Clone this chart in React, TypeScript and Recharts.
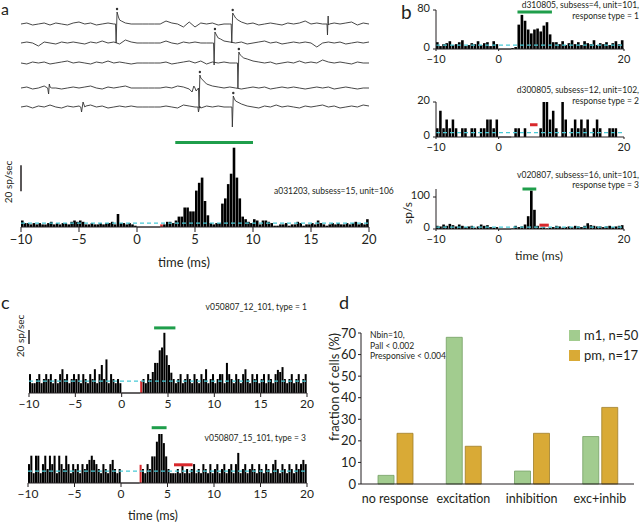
import React from 'react';
import { BarChart, Bar, XAxis, YAxis, ReferenceLine, ReferenceDot, LineChart, Line } from 'recharts';

const FONT = 'Lato, "Open Sans", sans-serif';
const INK = '#231f20';
const CYAN = '#48c9d6';
const GREEN = '#1f9e4b';
const RED = '#d8282c';
const M1_COLOR = '#a2cc8f';
const PM_COLOR = '#d9aa36';

// ---------- panel a: raw traces (0.5 ms grid, -10..20 ms) ----------
const TRACE1 = [
  0, 1, -1, 0, 1, -1, 1, 0, -1, 1,
  2, 0, 1, -1, 0, 1, 0, 4, 1, 0,
  0, 0, 0, 0, 0, 3, 1, 0, -3, 2,
  -3, 1, 0, 1, -1, 0, 0, 6, 2, 0,
  1, -1, 0, 1, 0, -1, 1, 0, 1, 3,
  0, 1, 0, -1, 1, 0, 1, 2, -1, 1,
  0,
];
const SPIKES1 = [[-1.85, 0], [-1.8, -19], [-1.72, 12], [-1.6, 7], [-1.35, 3], [8.12, 0], [8.17, -19], [8.25, 11], [8.4, 8], [8.7, 4], [16.38, 0], [16.42, -11], [16.48, 8], [16.58, 0]];
const MARKS1 = [[-1.72, 15], [8.25, 14]];

const TRACE2 = [
  0, 1, 0, -3, 1, 0, -1, 1, 0, 1,
  0, -1, 1, 0, 2, 0, 1, -1, 3, 1,
  0, 0, 0, 0, 0, 2, 0, -1, 1, 0,
  1, 0, 0, 0, 5, 2, 1, 0, 1, -1,
  0, 1, 2, 0, 1, -1, 0, 1, 0, 1,
  0, -4, 0, 1, 0, 1, -1, 0, 1, 0,
  1,
];
const SPIKES2 = [[6.6, 0], [6.65, -22], [6.72, 11], [6.85, 8], [7.2, 4]];
const MARKS2 = [[6.72, 14]];

const TRACE3 = [
  0, -1, 1, 0, 1, -1, 0, 1, 2, 0,
  1, 0, -1, 1, 0, 2, 0, 1, 0, -1,
  0, 0, 0, 0, 0, 1, -1, 0, 1, 2,
  0, 2, -1, 1, 0, 1, 0, 0, 7, 4,
  2, 1, 0, 1, -1, 0, 1, 0, 2, 0,
  1, 0, 3, 1, 0, 1, 0, -1, 1, 0,
  0,
];
const SPIKES3 = [[8.66, 0], [8.7, -25], [8.78, 11], [8.9, 8], [9.2, 5]];
const MARKS3 = [[8.78, 14]];

const TRACE4 = [
  0, 1, -1, 0, 2, 1, 0, -1, 0, 1,
  0, 1, 2, 0, -1, 1, 0, 1, 2, 0,
  0, 0, 0, 0, 0, 1, 0, 2, 1, -1,
  0, 10, 4, 2, 1, 0, 1, 0, -1, 0,
  1, 0, 1, -1, 0, 1, 0, 1, 0, -1,
  0, 1, 0, 1, -1, 0, 1, 0, -1, 0,
  0,
];
const SPIKES4 = [[-7.7, 0], [-7.62, -6], [-7.56, 4], [-7.35, 0], [4.75, -4], [4.9, 2], [5.1, -3], [5.3, 0], [5.35, -20], [5.42, 13]];
const MARKS4 = [[5.42, 16]];

const TRACE5 = [
  0, 1, -1, 1, 0, 2, 0, -1, 1, 0,
  1, 0, 2, 0, 1, -1, 0, 1, 0, 1,
  0, 0, 0, 0, 0, 1, 0, -1, 2, 1,
  0, -1, 1, 0, 1, 0, 0, 6, 3, 1,
  0, -1, 1, 0, 2, 0, 1, 0, -1, 1,
  0, 1, 2, 0, 1, -1, 0, 1, 0, 2,
  1,
];
const SPIKES5 = [[-4.85, 0], [-4.78, -5], [-4.65, 5], [-4.4, 1], [5.25, 0], [5.3, -5], [5.4, 1], [8.18, 0], [8.22, -20], [8.3, 11], [8.4, 8]];
const MARKS5 = [[8.3, 14]];

// ---------- histograms (sp/s) ----------
// panel a, 0.25 ms bins from -10
const A_HIST = [
  5, 3, 3, 2, 3, 2, 3, 2, 2, 3, 4, 2, 3, 2, 3, 3, 2, 4, 5, 4,
  5, 4, 2, 2, 3, 2, 2, 3, 2, 3, 3, 4, 2, 10, 3, 3, 2, 3, 2, 1,
  0, 0, 0, 0, 0, 0, 0, 0,
  2, 2, 4, 4, 3,
  5, 8, 8, 15, 15, 12, 12, 28, 34, 38, 20, 9, 3, 2, 3, 3, 18, 22, 33, 41, 61, 38, 22, 8, 6, 4, 3,
  6, 5, 2, 5, 5, 4, 3, 1, 1, 2, 2, 3, 1, 2, 2, 4, 3, 1, 2, 2,
  3, 2, 5, 3, 2, 1, 2, 3, 2, 3, 2, 2, 3, 2, 3, 4, 2, 3, 2, 6,
];
// panel b, 0.5 ms bins from -10
const B1_HIST = [
  14, 6, 10, 12, 16, 8, 10, 14, 18, 6,
  8, 12, 10, 16, 8, 12, 14, 6, 16, 10,
  0, 0, 0, 0,
  2, 4, 50, 70, 58, 40, 32, 40, 42, 36, 48, 55, 30, 14,
  14, 10, 16, 8, 12, 18, 10, 14, 8, 16, 12, 10, 18, 8, 12, 10, 14, 8, 12, 16, 10, 18,
];
const B2_HIST = [
  5, 15, 5, 10, 5, 10, 5, 0, 5, 5,
  0, 5, 5, 0, 5, 5, 10, 10, 5, 10,
  0, 0, 0, 0,
  0, 5, 5, 0, 5, 0, 0, 0, 0, 5, 20, 20, 10, 15,
  5, 0, 20, 10, 0, 5, 10, 5, 10, 5, 10, 0, 5, 10, 5, 0, 0, 5, 5, 5, 0, 0,
];
const B3_HIST = [
  10, 8, 14, 10, 16, 12, 8, 14, 10, 6,
  8, 10, 4, 8, 14, 10, 12, 6, 4, 6,
  0, 0, 0, 0,
  2, 10, 6, 8, 14, 40, 120, 60, 10, 4, 6, 2, 4, 6,
  10, 8, 4, 6, 8, 6, 10, 8, 6, 10, 18, 12, 10, 8, 8, 6, 8, 10, 6, 8, 10, 12,
];
// panel c, 0.25 ms bins from -10
const C1_HIST = [
  27, 14, 14, 20, 27, 14, 20, 27, 20, 27, 14, 20, 14, 27, 34, 20, 27, 14, 20, 27,
  20, 27, 14, 27, 20, 14, 27, 20, 34, 14, 27, 40, 20, 48, 14, 27, 20, 14, 20, 14,
  0, 0, 0, 0, 0, 0, 0, 0,
  17, 20, 14, 27, 20,
  30, 43, 43, 61, 65, 86, 54, 40, 29, 20, 14,
  20, 27, 14, 20, 27, 20, 14, 27, 20, 14, 27, 20, 34, 14, 20, 27,
  14, 20, 27, 27, 14, 43, 27, 20, 14, 27, 20, 14, 27, 34, 20, 14, 27, 20, 27, 14,
  20, 27, 14, 27, 20, 14, 27, 33, 30, 37, 20, 14, 20, 27, 14, 20, 27, 14, 20, 27,
];
const C2_HIST = [
  27, 39, 14, 39, 39, 14, 27, 39, 20, 39, 27, 39, 14, 39, 27, 20, 39, 27, 14, 27,
  20, 27, 14, 27, 20, 27, 33, 39, 33, 27, 20, 14, 27, 20, 14, 27, 33, 20, 14, 20,
  0, 0, 0, 0, 0, 0, 0, 0,
  26, 20, 14, 27, 20,
  38, 38, 59, 70, 70, 57, 38, 20, 14, 14, 14,
  20, 14, 27, 14, 20, 14, 20, 27, 14, 20, 14, 27, 20, 14, 27, 14,
  20, 27, 14, 20, 27, 14, 20, 27, 14, 27, 43, 14, 20, 27, 14, 20, 27, 20, 14, 27,
  20, 14, 27, 20, 14, 27, 33, 20, 14, 27, 20, 14, 27, 20, 14, 27, 20, 27, 33, 27,
];

// windows [start ms, end ms, level sp/s]
const A_EXC = [3.3, 10, 65];
const B1_EXC = [3, 8.5, 76];
const B2_INH = [5, 6.2, 7];
const B3_EXC = [3.8, 6, 125];
const B3_INH = [6.5, 8, 12];
const C1_EXC = [3.5, 5.8, 93];
const C2_EXC = [3.3, 4.9, 79];
const C2_INH = [5.7, 7.7, 26];

const A_BASE = 3;
const B1_BASE = 8;
const B2_BASE = 2.5;
const B3_BASE = 6;
const C1_BASE = 17;
const C2_BASE = 17;

const X_TICKS_FULL = [-10, -5, 0, 5, 10, 15, 20];
const X_TICKS_SHORT = [-10, 0, 20];

// ---------- panel d ----------
const CATEGORIES = ['no response', 'excitation', 'inhibition', 'exc+inhib'];
const M1_VALUES = [4, 68, 6, 22];
const PM_VALUES = [23.5, 17.5, 23.5, 35.5];
const D_TICKS = [0, 10, 20, 30, 40, 50, 60, 70];

const minus = (v: number) => String(v).replace('-', '\u2212');

function binData(vals: number[], binW: number, redStart: number | null) {
  return vals.map((v, i) => {
    const start = -10 + i * binW;
    const isRed = redStart !== null && Math.abs(start - redStart) < 1e-6;
    return { t: start + binW / 2, v: isRed ? 0 : v, r: isRed ? v : 0 };
  });
}

type HistProps = {
  left: number; right: number; top: number; bottom: number;
  vals: number[]; binW: number; yMax: number; base: number;
  exc?: number[]; inh?: number[]; redStart?: number | null;
  scale?: number[]; xTicks: number[]; yTicks?: number[];
  fontSize: number; tickSize: number; tickMargin: number; gap: number;
};

function Hist(p: HistProps) {
  const YW = 40, MT = 12, XH = 30, MR = 8;
  const data = binData(p.vals, p.binW, p.redStart ?? null);
  const pxPerMs = (p.right - p.left) / 30;
  const bs = Math.max(1, p.binW * pxPerMs - p.gap);
  const showY = !!p.yTicks;
  return (
    <div style={{ position: 'absolute', left: p.left - YW, top: p.top - MT }}>
      <BarChart
        width={p.right - p.left + YW + MR}
        height={p.bottom - p.top + MT + XH}
        data={data}
        margin={{ top: MT, right: MR, bottom: 0, left: showY ? 0 : YW }}
        barGap={0}
        barCategoryGap={0}
      >
        <XAxis
          dataKey="t" type="number" domain={[-10, 20]} ticks={p.xTicks} interval={0}
          height={XH} tickSize={p.tickSize} tickMargin={p.tickMargin}
          tick={{ fontSize: p.fontSize, fill: INK, fontFamily: FONT }}
          axisLine={{ stroke: INK }} tickLine={{ stroke: INK }}
          tickFormatter={minus} allowDataOverflow
        />
        <YAxis
          hide={!showY} width={YW} domain={[0, p.yMax]} ticks={p.yTicks} interval={0}
          tickSize={3} tickMargin={3} allowDataOverflow
          tick={{ fontSize: p.fontSize, fill: INK, fontFamily: FONT, dy: -2 }}
          axisLine={{ stroke: INK }} tickLine={{ stroke: INK }}
        />
        <Bar dataKey="v" stackId="s" fill="#000" barSize={bs} isAnimationActive={false} />
        <Bar dataKey="r" stackId="s" fill={RED} barSize={bs} isAnimationActive={false} />
        <ReferenceLine segment={[{ x: 0, y: 0 }, { x: 2, y: 0 }]} stroke="#8a8a8a" strokeWidth={1.5} ifOverflow="visible" />
        <ReferenceLine y={p.base} stroke={CYAN} strokeDasharray="4 3" strokeWidth={1.2} />
        {p.exc && (
          <ReferenceLine segment={[{ x: p.exc[0], y: p.exc[2] }, { x: p.exc[1], y: p.exc[2] }]} stroke={GREEN} strokeWidth={3} ifOverflow="visible" />
        )}
        {p.inh && (
          <ReferenceLine segment={[{ x: p.inh[0], y: p.inh[2] }, { x: p.inh[1], y: p.inh[2] }]} stroke={RED} strokeWidth={3} ifOverflow="visible" />
        )}
        {p.scale && (
          <ReferenceLine segment={[{ x: -10, y: p.scale[0] }, { x: -10, y: p.scale[1] }]} stroke={INK} strokeWidth={1.5} ifOverflow="visible" />
        )}
      </BarChart>
    </div>
  );
}

function traceData(vals: number[], spikes: number[][]) {
  const pts = vals.map((v, i) => ({ t: -10 + 0.5 * i, v }));
  spikes.forEach(([t, v]) => pts.push({ t, v }));
  pts.sort((a, b) => a.t - b.t);
  return pts;
}

function Trace({ row, vals, spikes, marks }: { row: number; vals: number[]; spikes: number[][]; marks: number[][] }) {
  const left = 21, right = 369;
  return (
    <div style={{ position: 'absolute', left, top: row - 18 }}>
      <LineChart width={right - left} height={44} data={traceData(vals, spikes)} margin={{ top: 0, right: 0, bottom: 0, left: 0 }}>
        <XAxis dataKey="t" type="number" domain={[-10, 20]} hide allowDataOverflow />
        <YAxis domain={[-26, 18]} hide allowDataOverflow />
        <Line dataKey="v" type="linear" stroke="#333" strokeWidth={0.9} dot={false} isAnimationActive={false} />
        {marks.map(([t, y], i) => (
          <ReferenceDot key={i} x={t} y={y} r={1.2} fill="#333" stroke="none" ifOverflow="visible" />
        ))}
      </LineChart>
    </div>
  );
}

function PanelD() {
  const data = CATEGORIES.map((name, i) => ({ name, m1: M1_VALUES[i], pm: PM_VALUES[i] }));
  const left = 361, right = 634, top = 333, bottom = 484;
  const YW = 40, MT = 10, XH = 30, MR = 6;
  return (
    <div style={{ position: 'absolute', left: left - YW, top: top - MT }}>
      <BarChart width={right - left + YW + MR} height={bottom - top + MT + XH} data={data}
        margin={{ top: MT, right: MR, bottom: 0, left: 0 }} barGap={3} barCategoryGap={0}>
        <XAxis dataKey="name" height={XH} tickLine={false} tickMargin={4}
          tick={{ fontSize: 12.5, fill: INK, fontFamily: FONT }} axisLine={{ stroke: INK }} interval={0} />
        <YAxis width={YW} domain={[0, 70]} ticks={D_TICKS} interval={0} tickSize={3} tickMargin={2}
          tick={{ fontSize: 13, fill: INK, fontFamily: FONT }} axisLine={{ stroke: INK }} tickLine={{ stroke: INK }} />
        <Bar dataKey="m1" fill={M1_COLOR} stroke="#74a063" strokeWidth={0.8} barSize={16} isAnimationActive={false} />
        <Bar dataKey="pm" fill={PM_COLOR} stroke="#a07d28" strokeWidth={0.8} barSize={16} isAnimationActive={false} />
      </BarChart>
    </div>
  );
}

const T = (props: any) => <text fontFamily={FONT} fill={INK} {...props} />;

export default function App() {
  return (
    <div style={{ position: 'absolute', left: 0, top: 0, width: 640, height: 524, background: '#fff', overflow: 'hidden' }}>
      <Trace row={24} vals={TRACE1} spikes={SPIKES1} marks={MARKS1} />
      <Trace row={43} vals={TRACE2} spikes={SPIKES2} marks={MARKS2} />
      <Trace row={63} vals={TRACE3} spikes={SPIKES3} marks={MARKS3} />
      <Trace row={88} vals={TRACE4} spikes={SPIKES4} marks={MARKS4} />
      <Trace row={107} vals={TRACE5} spikes={SPIKES5} marks={MARKS5} />

      <Hist left={21} right={369} top={136} bottom={227} vals={A_HIST} binW={0.25} yMax={70} base={A_BASE}
        exc={A_EXC} redStart={2} scale={[27.5, 47.5]} xTicks={X_TICKS_FULL}
        fontSize={13} tickSize={5} tickMargin={3} gap={0.3} />

      <Hist left={436} right={624} top={10} bottom={49} vals={B1_HIST} binW={0.5} yMax={80} base={B1_BASE}
        exc={B1_EXC} xTicks={X_TICKS_SHORT} yTicks={[0, 80]} fontSize={11} tickSize={2} tickMargin={4} gap={0.5} />
      <Hist left={436} right={624} top={102} bottom={137} vals={B2_HIST} binW={0.5} yMax={20} base={B2_BASE}
        inh={B2_INH} xTicks={X_TICKS_SHORT} yTicks={[0, 20]} fontSize={11} tickSize={2} tickMargin={4} gap={0.6} />
      <Hist left={436} right={624} top={189} bottom={229} vals={B3_HIST} binW={0.5} yMax={125} base={B3_BASE}
        exc={B3_EXC} inh={B3_INH} xTicks={X_TICKS_SHORT} yTicks={[0, 100]} fontSize={11} tickSize={2} tickMargin={4} gap={0.5} />

      <Hist left={29} right={307} top={323} bottom={393} vals={C1_HIST} binW={0.25} yMax={100} base={C1_BASE}
        exc={C1_EXC} redStart={2} scale={[70, 90]} xTicks={X_TICKS_FULL} fontSize={12} tickSize={4} tickMargin={2} gap={0.3} />
      <Hist left={28} right={307} top={413} bottom={483} vals={C2_HIST} binW={0.25} yMax={100} base={C2_BASE}
        exc={C2_EXC} inh={C2_INH} redStart={2} xTicks={X_TICKS_FULL} fontSize={12} tickSize={4} tickMargin={2} gap={0.3} />

      <PanelD />

      <svg width={640} height={524} style={{ position: 'absolute', left: 0, top: 0, pointerEvents: 'none' }}>
        <T x={1} y={15} fontSize={16}>a</T>
        <T x={401} y={19} fontSize={19}>b</T>
        <T x={1} y={309} fontSize={18}>c</T>
        <T x={339} y={309} fontSize={18}>d</T>

        <T x={274} y={194} fontSize={8.5}>a031203, subsess=15, unit=106</T>
        <T x={0} y={0} fontSize={10} textAnchor="middle" transform="translate(12,182) rotate(-90)">20 sp/sec</T>
        <T x={184} y={267} fontSize={13} textAnchor="middle">time (ms)</T>

        <T x={639} y={8} fontSize={8.5} textAnchor="end">d310805, subsess=4, unit=101,</T>
        <T x={639} y={19} fontSize={8.5} textAnchor="end">response type = 1</T>
        <T x={639} y={93} fontSize={8.5} textAnchor="end">d300805, subsess=12, unit=102,</T>
        <T x={639} y={104} fontSize={8.5} textAnchor="end">response type = 2</T>
        <T x={639} y={178} fontSize={8.5} textAnchor="end">v020807, subsess=16, unit=101,</T>
        <T x={639} y={188} fontSize={8.5} textAnchor="end">response type = 3</T>
        <T x={0} y={0} fontSize={12} textAnchor="middle" transform="translate(412,213) rotate(-90)">sp/s</T>
        <T x={539} y={260} fontSize={12} textAnchor="middle">time (ms)</T>

        <T x={307} y={310} fontSize={8.5} textAnchor="end">v050807_12_101, type = 1</T>
        <T x={306} y={441} fontSize={8.5} textAnchor="end">v050807_15_101, type = 3</T>
        <T x={0} y={0} fontSize={10} textAnchor="middle" transform="translate(24,336) rotate(-90)">20 sp/sec</T>
        <T x={153} y={520} fontSize={12.5} textAnchor="middle">time (ms)</T>

        <T x={0} y={0} fontSize={13} textAnchor="middle" transform="translate(339,387) rotate(-90)">fraction of cells (%)</T>
        <T x={370} y={338} fontSize={8.5}>Nbin=10,</T>
        <T x={370} y={349} fontSize={8.5}>Pall &lt;  0.002</T>
        <T x={370} y={359} fontSize={8.5}>Presponsive &lt; 0.004</T>

        <rect x={569} y={330} width={11} height={11} fill={M1_COLOR} />
        <T x={584} y={340} fontSize={13}>m1, n=50</T>
        <rect x={569} y={350} width={11} height={11} fill={PM_COLOR} />
        <T x={584} y={360} fontSize={13}>pm, n=17</T>
      </svg>
    </div>
  );
}
